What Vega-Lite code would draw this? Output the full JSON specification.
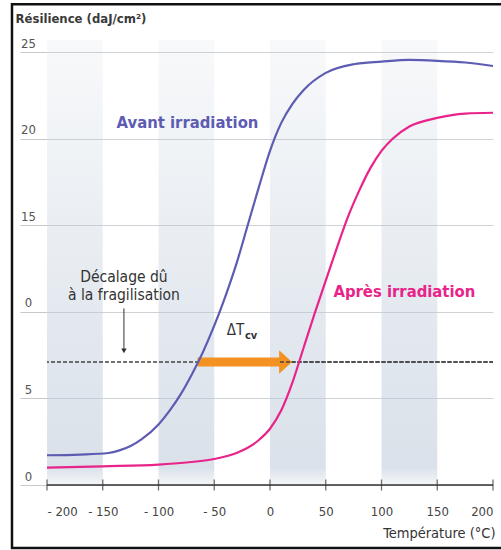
{
  "$schema": "https://vega.github.io/schema/vega-lite/v6.json",
  "width": 446,
  "height": 458,
  "autosize": {"type": "none"},
  "padding": {"left": 47, "top": 40, "right": 8, "bottom": 52},
  "background": "white",
  "config": {
    "view": {"stroke": null},
    "font": "Liberation Sans Narrow, DejaVu Sans Condensed, sans-serif"
  },
  "datasets": {
    "curves": [
      {"serie": "Avant", "T": -200, "R": 1.72},
      {"serie": "Avant", "T": -170, "R": 1.76},
      {"serie": "Avant", "T": -145, "R": 1.85},
      {"serie": "Avant", "T": -135, "R": 2.0},
      {"serie": "Avant", "T": -125, "R": 2.25},
      {"serie": "Avant", "T": -115, "R": 2.65},
      {"serie": "Avant", "T": -100, "R": 3.5},
      {"serie": "Avant", "T": -90, "R": 4.3},
      {"serie": "Avant", "T": -80, "R": 5.25},
      {"serie": "Avant", "T": -70, "R": 6.4},
      {"serie": "Avant", "T": -60, "R": 7.7},
      {"serie": "Avant", "T": -50, "R": 9.2},
      {"serie": "Avant", "T": -40, "R": 10.9},
      {"serie": "Avant", "T": -30, "R": 12.8},
      {"serie": "Avant", "T": -20, "R": 15.0},
      {"serie": "Avant", "T": -10, "R": 17.2},
      {"serie": "Avant", "T": 0, "R": 19.3},
      {"serie": "Avant", "T": 10, "R": 20.9},
      {"serie": "Avant", "T": 20, "R": 22.0},
      {"serie": "Avant", "T": 30, "R": 22.8},
      {"serie": "Avant", "T": 50, "R": 23.8},
      {"serie": "Avant", "T": 75, "R": 24.3},
      {"serie": "Avant", "T": 100, "R": 24.45},
      {"serie": "Avant", "T": 125, "R": 24.55},
      {"serie": "Avant", "T": 150, "R": 24.5},
      {"serie": "Avant", "T": 175, "R": 24.4},
      {"serie": "Avant", "T": 200, "R": 24.2},
      {"serie": "Après", "T": -200, "R": 1.0},
      {"serie": "Après", "T": -150, "R": 1.08},
      {"serie": "Après", "T": -100, "R": 1.18},
      {"serie": "Après", "T": -75, "R": 1.3},
      {"serie": "Après", "T": -50, "R": 1.5},
      {"serie": "Après", "T": -30, "R": 1.85},
      {"serie": "Après", "T": -20, "R": 2.15},
      {"serie": "Après", "T": -10, "R": 2.6},
      {"serie": "Après", "T": 0, "R": 3.25},
      {"serie": "Après", "T": 10, "R": 4.3},
      {"serie": "Après", "T": 20, "R": 5.9},
      {"serie": "Après", "T": 30, "R": 7.9},
      {"serie": "Après", "T": 40, "R": 9.9},
      {"serie": "Après", "T": 50, "R": 11.8},
      {"serie": "Après", "T": 60, "R": 13.7},
      {"serie": "Après", "T": 70, "R": 15.5},
      {"serie": "Après", "T": 80, "R": 17.0},
      {"serie": "Après", "T": 90, "R": 18.3},
      {"serie": "Après", "T": 100, "R": 19.3},
      {"serie": "Après", "T": 110, "R": 20.0},
      {"serie": "Après", "T": 125, "R": 20.7},
      {"serie": "Après", "T": 150, "R": 21.2},
      {"serie": "Après", "T": 175, "R": 21.45},
      {"serie": "Après", "T": 200, "R": 21.5}
    ],
    "bands": [
      {"start": -200, "end": -150},
      {"start": -100, "end": -50},
      {"start": 0, "end": 50},
      {"start": 100, "end": 150}
    ],
    "ticks": [
      {"T": -200}, {"T": -150}, {"T": -100}, {"T": -50}, {"T": 0},
      {"T": 50}, {"T": 100}, {"T": 150}, {"T": 200}
    ]
  },
  "layer": [
    {
      "data": {"name": "bands"},
      "mark": {
        "type": "rect",
        "fill": {
          "gradient": "linear", "x1": 0, "y1": 0, "x2": 0, "y2": 1,
          "stops": [
            {"offset": 0, "color": "rgba(184,198,214,0.1)"},
            {"offset": 0.6, "color": "rgba(184,198,214,0.38)"},
            {"offset": 0.96, "color": "rgba(184,198,214,0.52)"},
            {"offset": 1, "color": "rgba(184,198,214,0.15)"}
          ]
        }
      },
      "encoding": {
        "x": {
          "field": "start", "type": "quantitative",
          "scale": {"domain": [-200, 200], "nice": false, "zero": false},
          "axis": {
            "values": [-200, -150, -100, -50, 0, 50, 100, 150, 200],
            "domain": false, "ticks": false, "grid": false,
            "labelPadding": 7, "labelFontSize": 13, "labelColor": "#444",
            "labelExpr": "datum.value < 0 ? '- ' + (-datum.value) : '' + datum.value",
            "title": "Température (°C)",
            "titleFontSize": 14.5, "titleFontWeight": "normal", "titleColor": "#333",
            "titleAnchor": "end", "titleAlign": "right",
            "titleX": 448, "titleY": 39, "titleBaseline": "alphabetic"
          }
        },
        "x2": {"field": "end"},
        "y": {"datum": 0, "type": "quantitative",
          "scale": {"domain": [-0.75, 25.7], "nice": false, "zero": false},
          "axis": {
            "values": [0, 5, 10, 15, 20, 25],
            "domain": false, "grid": true, "gridColor": "#cfd3d8", "gridWidth": 1,
            "ticks": true, "tickSize": 27, "tickColor": "#c8c8c8", "tickWidth": 1,
            "labelPadding": -8, "labelAlign": "center", "labelBaseline": "bottom",
            "labelOffset": -2, "labelFontSize": 13, "labelColor": "#555",
            "labelExpr": "datum.value == 10 ? '0' : datum.label",
            "title": "Résilience (daJ/cm²)",
            "titleAngle": 0, "titleAlign": "left", "titleBaseline": "middle",
            "titleX": -32, "titleY": -22, "titleFontSize": 13, "titleFontWeight": "bold",
            "titleColor": "#3a3a3a"
          }
        },
        "y2": {"datum": 25.7}
      }
    },
    {
      "data": {"values": [{}]},
      "mark": {"type": "rect", "fill": null, "stroke": "#111", "strokeWidth": 2.5},
      "encoding": {
        "x": {"datum": -231.4, "type": "quantitative"},
        "x2": {"datum": 225},
        "y": {"datum": 27.77, "type": "quantitative"},
        "y2": {"datum": -3.64}
      }
    },
    {
      "data": {"values": [{}]},
      "mark": {"type": "rule", "color": "#333", "strokeWidth": 1.5},
      "encoding": {"y": {"datum": 0, "type": "quantitative"}}
    },
    {
      "data": {"name": "ticks"},
      "mark": {"type": "tick", "orient": "vertical", "size": 11, "thickness": 1.3, "color": "#333"},
      "encoding": {
        "x": {"field": "T", "type": "quantitative"},
        "y": {"datum": 0, "type": "quantitative"}
      }
    },
    {
      "data": {"values": [{}]},
      "mark": {"type": "rule", "color": "#444", "strokeWidth": 1.6, "strokeDash": [4, 2]},
      "encoding": {"y": {"datum": 7.1, "type": "quantitative"}}
    },
    {
      "data": {"values": [{}]},
      "mark": {"type": "rule", "color": "#f39122", "strokeWidth": 9},
      "encoding": {
        "x": {"datum": -65, "type": "quantitative"},
        "x2": {"datum": 9},
        "y": {"datum": 7.1, "type": "quantitative"}
      }
    },
    {
      "data": {"values": [{}]},
      "mark": {"type": "point", "shape": "M -0.5 -0.9 L 0.5 0 L -0.5 0.9 Z", "size": 676, "filled": true, "color": "#f39122", "opacity": 1},
      "encoding": {
        "x": {"datum": 14, "type": "quantitative"},
        "y": {"datum": 7.1, "type": "quantitative"}
      }
    },
    {
      "data": {"values": [{}]},
      "mark": {"type": "rule", "color": "#444", "strokeDash": [4, 2], "strokeWidth": 1.6},
      "encoding": {
        "x": {"datum": 9, "type": "quantitative"},
        "x2": {"datum": 200},
        "y": {"datum": 7.1, "type": "quantitative"}
      }
    },
    {
      "data": {"name": "curves"},
      "mark": {"type": "line", "interpolate": "monotone", "strokeWidth": 2.2},
      "encoding": {
        "x": {"field": "T", "type": "quantitative"},
        "y": {"field": "R", "type": "quantitative"},
        "color": {"field": "serie", "type": "nominal",
          "scale": {"domain": ["Avant", "Après"], "range": ["#5d5cb3", "#e8248a"]},
          "legend": null}
      }
    },
    {
      "data": {"values": [{}]},
      "mark": {"type": "rule", "color": "#333", "strokeWidth": 1},
      "encoding": {
        "x": {"datum": -131, "type": "quantitative"},
        "y": {"datum": 10.2, "type": "quantitative"},
        "y2": {"datum": 7.75}
      }
    },
    {
      "data": {"values": [{}]},
      "mark": {"type": "point", "shape": "triangle-down", "size": 30, "filled": true, "color": "#333", "opacity": 1},
      "encoding": {
        "x": {"datum": -131, "type": "quantitative"},
        "y": {"datum": 7.75, "type": "quantitative"}
      }
    },
    {
      "data": {"values": [{}]},
      "mark": {"type": "text", "text": "Décalage dû", "fontSize": 15.5, "color": "#333", "align": "center", "baseline": "middle"},
      "encoding": {
        "x": {"datum": -131, "type": "quantitative"},
        "y": {"datum": 12.0, "type": "quantitative"}
      }
    },
    {
      "data": {"values": [{}]},
      "mark": {"type": "text", "text": "à la fragilisation", "fontSize": 15.5, "color": "#333", "align": "center", "baseline": "middle"},
      "encoding": {
        "x": {"datum": -131, "type": "quantitative"},
        "y": {"datum": 10.97, "type": "quantitative"}
      }
    },
    {
      "data": {"values": [{}]},
      "mark": {"type": "text", "text": "ΔT", "fontSize": 15, "color": "#333", "align": "center", "baseline": "middle"},
      "encoding": {
        "x": {"datum": -31, "type": "quantitative"},
        "y": {"datum": 8.95, "type": "quantitative"}
      }
    },
    {
      "data": {"values": [{}]},
      "mark": {"type": "text", "text": "cv", "fontSize": 11, "fontWeight": "bold", "color": "#333", "align": "center", "baseline": "middle"},
      "encoding": {
        "x": {"datum": -17, "type": "quantitative"},
        "y": {"datum": 8.6, "type": "quantitative"}
      }
    },
    {
      "data": {"values": [{}]},
      "mark": {"type": "text", "text": "Avant irradiation", "fontSize": 16.5, "fontWeight": "bold", "color": "#5d5cb3", "align": "center", "baseline": "middle"},
      "encoding": {
        "x": {"datum": -74, "type": "quantitative"},
        "y": {"datum": 20.9, "type": "quantitative"}
      }
    },
    {
      "data": {"values": [{}]},
      "mark": {"type": "text", "text": "Après irradiation", "fontSize": 16.5, "fontWeight": "bold", "color": "#e8248a", "align": "center", "baseline": "middle"},
      "encoding": {
        "x": {"datum": 120.5, "type": "quantitative"},
        "y": {"datum": 11.14, "type": "quantitative"}
      }
    }
  ]
}
